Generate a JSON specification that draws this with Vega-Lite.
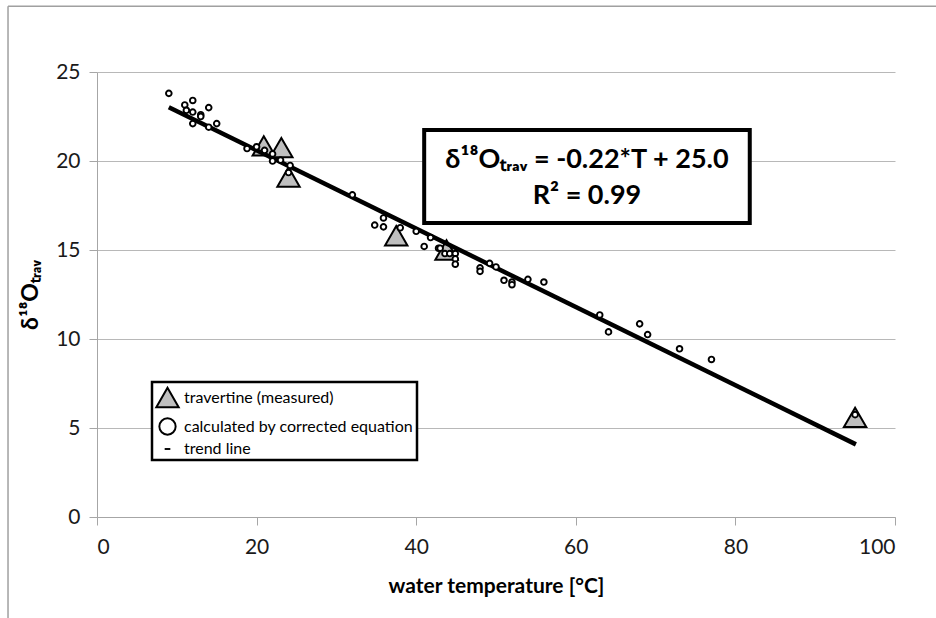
{
  "$schema": "https://vega.github.io/schema/vega-lite/v6.json",
  "width": 798,
  "height": 445,
  "autosize": "none",
  "padding": {"left": 97, "top": 72, "right": 41, "bottom": 101},
  "background": "white",
  "config": {
    "view": {"stroke": null},
    "font": "Lato",
    "legend": {"strokeWidth": 2.5},
    "axis": {
      "labelFont": "Lato",
      "titleFont": "Lato",
      "labelColor": "#1a1a1a",
      "titleColor": "#000000",
      "domainColor": "#a6a6a6",
      "tickColor": "#a6a6a6",
      "gridColor": "#b8b8b8",
      "domainWidth": 1,
      "tickWidth": 1,
      "gridWidth": 1
    }
  },
  "datasets": {
    "points": [
      {"T": 20.9, "d18O": 20.85, "series": "travertine (measured)"},
      {"T": 23.1, "d18O": 20.75, "series": "travertine (measured)"},
      {"T": 24.0, "d18O": 19.1, "series": "travertine (measured)"},
      {"T": 37.5, "d18O": 15.8, "series": "travertine (measured)"},
      {"T": 43.8, "d18O": 15.0, "series": "travertine (measured)"},
      {"T": 95.0, "d18O": 5.6, "series": "travertine (measured)"},
      {"T": 9.0, "d18O": 23.8, "series": "calculated by corrected equation"},
      {"T": 11.0, "d18O": 23.15, "series": "calculated by corrected equation"},
      {"T": 12.0, "d18O": 23.4, "series": "calculated by corrected equation"},
      {"T": 11.2, "d18O": 22.85, "series": "calculated by corrected equation"},
      {"T": 12.0, "d18O": 22.75, "series": "calculated by corrected equation"},
      {"T": 13.0, "d18O": 22.6, "series": "calculated by corrected equation"},
      {"T": 13.0, "d18O": 22.5, "series": "calculated by corrected equation"},
      {"T": 14.0, "d18O": 23.0, "series": "calculated by corrected equation"},
      {"T": 12.0, "d18O": 22.1, "series": "calculated by corrected equation"},
      {"T": 15.0, "d18O": 22.1, "series": "calculated by corrected equation"},
      {"T": 14.0, "d18O": 21.9, "series": "calculated by corrected equation"},
      {"T": 18.8, "d18O": 20.7, "series": "calculated by corrected equation"},
      {"T": 20.0, "d18O": 20.8, "series": "calculated by corrected equation"},
      {"T": 21.0, "d18O": 20.6, "series": "calculated by corrected equation"},
      {"T": 22.0, "d18O": 20.4, "series": "calculated by corrected equation"},
      {"T": 22.0, "d18O": 20.0, "series": "calculated by corrected equation"},
      {"T": 23.0, "d18O": 20.05, "series": "calculated by corrected equation"},
      {"T": 24.2, "d18O": 19.75, "series": "calculated by corrected equation"},
      {"T": 24.0, "d18O": 19.35, "series": "calculated by corrected equation"},
      {"T": 32.0, "d18O": 18.1, "series": "calculated by corrected equation"},
      {"T": 35.9, "d18O": 16.8, "series": "calculated by corrected equation"},
      {"T": 34.8, "d18O": 16.4, "series": "calculated by corrected equation"},
      {"T": 35.9, "d18O": 16.3, "series": "calculated by corrected equation"},
      {"T": 38.0, "d18O": 16.25, "series": "calculated by corrected equation"},
      {"T": 40.0, "d18O": 16.05, "series": "calculated by corrected equation"},
      {"T": 41.8, "d18O": 15.7, "series": "calculated by corrected equation"},
      {"T": 41.0, "d18O": 15.2, "series": "calculated by corrected equation"},
      {"T": 42.8, "d18O": 15.1, "series": "calculated by corrected equation"},
      {"T": 43.0, "d18O": 15.1, "series": "calculated by corrected equation"},
      {"T": 43.6, "d18O": 14.8, "series": "calculated by corrected equation"},
      {"T": 44.2, "d18O": 14.8, "series": "calculated by corrected equation"},
      {"T": 44.9, "d18O": 14.8, "series": "calculated by corrected equation"},
      {"T": 44.9, "d18O": 14.5, "series": "calculated by corrected equation"},
      {"T": 44.9, "d18O": 14.2, "series": "calculated by corrected equation"},
      {"T": 48.0, "d18O": 14.0, "series": "calculated by corrected equation"},
      {"T": 48.0, "d18O": 13.8, "series": "calculated by corrected equation"},
      {"T": 49.2, "d18O": 14.25, "series": "calculated by corrected equation"},
      {"T": 50.0, "d18O": 14.05, "series": "calculated by corrected equation"},
      {"T": 51.0, "d18O": 13.3, "series": "calculated by corrected equation"},
      {"T": 52.0, "d18O": 13.2, "series": "calculated by corrected equation"},
      {"T": 52.0, "d18O": 13.05, "series": "calculated by corrected equation"},
      {"T": 54.0, "d18O": 13.35, "series": "calculated by corrected equation"},
      {"T": 56.0, "d18O": 13.2, "series": "calculated by corrected equation"},
      {"T": 63.0, "d18O": 11.35, "series": "calculated by corrected equation"},
      {"T": 64.1, "d18O": 10.4, "series": "calculated by corrected equation"},
      {"T": 68.0, "d18O": 10.85, "series": "calculated by corrected equation"},
      {"T": 69.0, "d18O": 10.25, "series": "calculated by corrected equation"},
      {"T": 73.0, "d18O": 9.45, "series": "calculated by corrected equation"},
      {"T": 77.0, "d18O": 8.85, "series": "calculated by corrected equation"},
      {"T": 95.0, "d18O": 5.75, "series": "calculated by corrected equation"}
    ],
    "trend": [
      {"T": 9.0, "d18O": 23.02, "series": "trend line"},
      {"T": 95.1, "d18O": 4.08, "series": "trend line"}
    ]
  },
  "layer": [
    {
      "data": {"name": "points"},
      "transform": [{"filter": "datum.series === 'travertine (measured)'"}],
      "mark": {"type": "point", "filled": true, "opacity": 1, "fillOpacity": 1, "strokeOpacity": 1},
      "encoding": {
        "x": {
          "field": "T",
          "type": "quantitative",
          "scale": {"domain": [0, 100], "nice": false, "zero": false},
          "axis": {
            "title": "water temperature [°C]",
            "values": [0, 20, 40, 60, 80, 100],
            "grid": false,
            "tickSize": 8,
            "labelFontSize": 21,
            "labelPadding": 11,
            "titleFontSize": 21,
            "titleFontWeight": "bold",
            "titlePadding": 18
          }
        },
        "y": {
          "field": "d18O",
          "type": "quantitative",
          "scale": {"domain": [0, 25], "nice": false, "zero": false},
          "axis": {
            "title": "δ¹⁸Oₜᵣₐᵥ",
            "values": [0, 5, 10, 15, 20, 25],
            "grid": true,
            "tickSize": 8,
            "labelFontSize": 21,
            "labelPadding": 9,
            "titleFontSize": 23,
            "titleFontWeight": "bold",
            "titlePadding": 13
          }
        },
        "shape": {
          "field": "series",
          "type": "nominal",
          "scale": {
            "domain": ["travertine (measured)", "calculated by corrected equation", "trend line"],
            "range": ["triangle-up", "circle", "stroke"]
          },
          "legend": {
            "title": null,
            "orient": "none",
            "legendX": 55,
            "legendY": 310,
            "padding": 3,
            "rowPadding": 2,
            "labelOffset": 4,
            "labelFont": "Lato",
            "labelFontSize": 16,
            "labelColor": "#000000",
            "labelLimit": 400,
            "strokeColor": "black",
            "fillColor": "white"
          }
        },
        "fill": {
          "field": "series",
          "type": "nominal",
          "scale": {
            "domain": ["travertine (measured)", "calculated by corrected equation", "trend line"],
            "range": ["#bfbfbf", "white", "black"]
          },
          "legend": {
            "title": null,
            "orient": "none",
            "legendX": 55,
            "legendY": 310,
            "padding": 3,
            "rowPadding": 2,
            "labelOffset": 4,
            "labelFont": "Lato",
            "labelFontSize": 16,
            "labelColor": "#000000",
            "labelLimit": 400,
            "strokeColor": "black",
            "fillColor": "white"
          }
        },
        "stroke": {
          "field": "series",
          "type": "nominal",
          "scale": {
            "domain": ["travertine (measured)", "calculated by corrected equation", "trend line"],
            "range": ["black", "black", "black"]
          },
          "legend": {
            "title": null,
            "orient": "none",
            "legendX": 55,
            "legendY": 310,
            "padding": 3,
            "rowPadding": 2,
            "labelOffset": 4,
            "labelFont": "Lato",
            "labelFontSize": 16,
            "labelColor": "#000000",
            "labelLimit": 400,
            "strokeColor": "black",
            "fillColor": "white"
          }
        },
        "size": {
          "field": "series",
          "type": "nominal",
          "scale": {
            "domain": ["travertine (measured)", "calculated by corrected equation", "trend line"],
            "range": [500, 32, 784]
          },
          "legend": {
            "title": null,
            "orient": "none",
            "legendX": 55,
            "legendY": 310,
            "padding": 3,
            "rowPadding": 2,
            "labelOffset": 4,
            "labelFont": "Lato",
            "labelFontSize": 16,
            "labelColor": "#000000",
            "labelLimit": 400,
            "strokeColor": "black",
            "fillColor": "white"
          }
        },
        "strokeWidth": {
          "field": "series",
          "type": "nominal",
          "scale": {
            "domain": ["travertine (measured)", "calculated by corrected equation", "trend line"],
            "range": [2, 1.9, 4.5]
          },
          "legend": {
            "title": null,
            "orient": "none",
            "legendX": 55,
            "legendY": 310,
            "padding": 3,
            "rowPadding": 2,
            "labelOffset": 4,
            "labelFont": "Lato",
            "labelFontSize": 16,
            "labelColor": "#000000",
            "labelLimit": 400,
            "strokeColor": "black",
            "fillColor": "white"
          }
        }
      }
    },
    {
      "data": {"name": "trend"},
      "mark": {"type": "line", "color": "black", "strokeWidth": 4.5},
      "encoding": {
        "x": {"field": "T", "type": "quantitative"},
        "y": {"field": "d18O", "type": "quantitative"}
      }
    },
    {
      "data": {"name": "points"},
      "transform": [{"filter": "datum.series === 'calculated by corrected equation'"}],
      "mark": {"type": "point", "shape": "circle", "filled": true, "fill": "white", "stroke": "black", "strokeWidth": 1.9, "size": 32, "opacity": 1, "fillOpacity": 1},
      "encoding": {
        "x": {"field": "T", "type": "quantitative"},
        "y": {"field": "d18O", "type": "quantitative"}
      }
    },
    {
      "data": {"values": [{}]},
      "mark": {"type": "rule", "color": "#a0a0a0", "strokeWidth": 1.5},
      "encoding": {
        "x": {"datum": -11.15, "type": "quantitative"},
        "y": {"datum": -5.8, "type": "quantitative"},
        "y2": {"datum": 28.7}
      }
    },
    {
      "data": {"values": [{}]},
      "mark": {"type": "rule", "color": "#a0a0a0", "strokeWidth": 1.5},
      "encoding": {
        "x": {"datum": -11.15, "type": "quantitative"},
        "x2": {"datum": 106},
        "y": {"datum": 28.7, "type": "quantitative"}
      }
    },
    {
      "data": {"values": [{}]},
      "mark": {"type": "rect", "fill": "white", "stroke": "black", "strokeWidth": 4},
      "encoding": {
        "x": {"datum": 41.0, "type": "quantitative"},
        "x2": {"datum": 81.8},
        "y": {"datum": 21.74, "type": "quantitative"},
        "y2": {"datum": 16.52}
      }
    },
    {
      "data": {"values": [{}]},
      "mark": {
        "type": "text",
        "text": ["δ¹⁸Oₜᵣₐᵥ = -0.22*T + 25.0", "R² = 0.99"],
        "font": "Lato",
        "fontSize": 27,
        "fontWeight": "bold",
        "lineHeight": 36,
        "align": "center",
        "baseline": "middle",
        "color": "black"
      },
      "encoding": {
        "x": {"datum": 61.4, "type": "quantitative"},
        "y": {"datum": 20.06, "type": "quantitative"}
      }
    }
  ]
}
